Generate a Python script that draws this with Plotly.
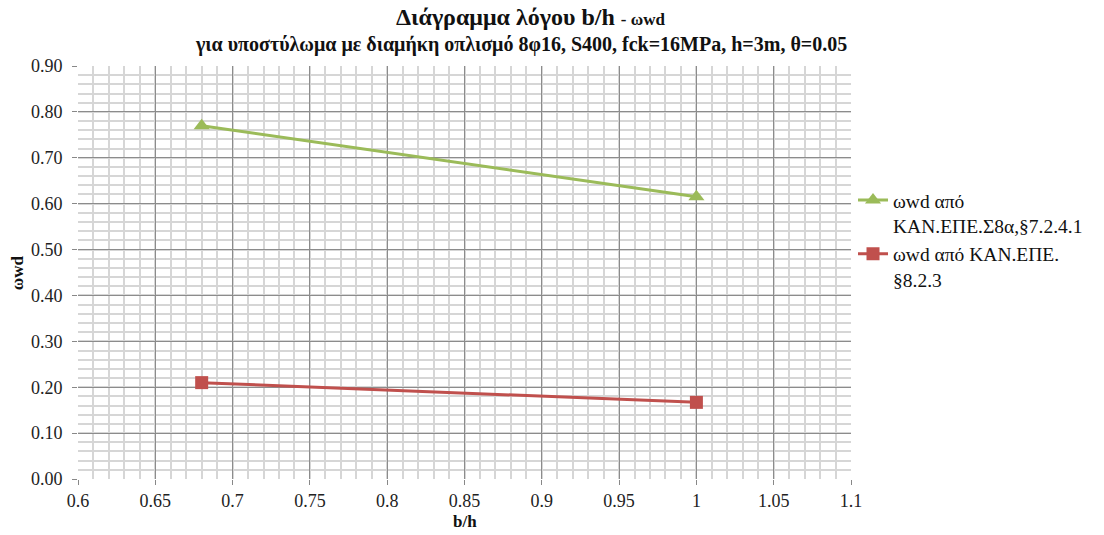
import plotly.graph_objects as go

# Data
bh = [0.68, 1.0]
wwd_s8a = [0.77, 0.615]
wwd_823 = [0.21, 0.167]
series_names = ["ωwd από<br>ΚΑΝ.ΕΠΕ.Σ8α,§7.2.4.1", "ωwd από ΚΑΝ.ΕΠΕ.<br>§8.2.3"]
x_ticks = [0.6, 0.65, 0.7, 0.75, 0.8, 0.85, 0.9, 0.95, 1.0, 1.05, 1.1]
x_ticklabels = ["0.6", "0.65", "0.7", "0.75", "0.8", "0.85", "0.9", "0.95", "1", "1.05", "1.1"]
y_ticks = [0.0, 0.1, 0.2, 0.3, 0.4, 0.5, 0.6, 0.7, 0.8, 0.9]
y_ticklabels = ["0.00", "0.10", "0.20", "0.30", "0.40", "0.50", "0.60", "0.70", "0.80", "0.90"]
title_main = "Διάγραμμα λόγου b/h"
title_sym = "- ωwd"
subtitle = "για υποστύλωμα με διαμήκη οπλισμό 8φ16, S400, fck=16MPa, h=3m, θ=0.05"
x_title = "b/h"
y_title = "ωwd"

FONT = "'Liberation Serif', 'Times New Roman', 'DejaVu Serif', serif"
TXT = "#111111"

fig = go.Figure()
fig.add_trace(go.Scatter(
    x=bh, y=wwd_s8a, mode="lines+markers", name=series_names[0],
    line=dict(color="#9BBB59", width=3),
    marker=dict(symbol="triangle-up", size=14, color="#9BBB59"),
))
fig.add_trace(go.Scatter(
    x=bh, y=wwd_823, mode="lines+markers", name=series_names[1],
    line=dict(color="#C0504D", width=3),
    marker=dict(symbol="square", size=13, color="#C0504D"),
))

axis_common = dict(
    showline=False, zeroline=False,
    ticks="outside", ticklen=5, tickcolor="#888888",
    tickfont=dict(family=FONT, size=18, color="#222222"),
    gridcolor="#8c8c8c", gridwidth=1,
)

fig.update_xaxes(
    range=[0.6, 1.1], tickmode="array", tickvals=x_ticks, ticktext=x_ticklabels,
    minor=dict(dtick=0.01, showgrid=True, gridcolor="#d6d6d6", gridwidth=2),
    ticklabelstandoff=0,
    **axis_common,
)
fig.update_yaxes(
    range=[0, 0.9], tickmode="array", tickvals=y_ticks, ticktext=y_ticklabels,
    minor=dict(dtick=0.02, showgrid=True, gridcolor="#d6d6d6", gridwidth=2),
    ticklabelstandoff=6,
    **axis_common,
)

annotations = [
    dict(text=f"<b>{title_main} <span style='font-size:17px'>{title_sym}</span></b>",
         x=0.585, y=1.118, xref="paper", yref="paper", xanchor="center", yanchor="middle",
         showarrow=False, font=dict(family=FONT, size=24, color=TXT)),
    dict(text=f"<b>{subtitle}</b>",
         x=0.573, y=1.053, xref="paper", yref="paper", xanchor="center", yanchor="middle",
         showarrow=False, font=dict(family=FONT, size=20, color=TXT)),
    dict(text=f"<b>{x_title}</b>",
         x=0.5, y=-0.104, xref="paper", yref="paper", xanchor="center", yanchor="middle",
         showarrow=False, font=dict(family=FONT, size=17, color=TXT)),
    dict(text=f"<b>{y_title}</b>", textangle=-90,
         x=-0.078, y=0.5, xref="paper", yref="paper", xanchor="center", yanchor="middle",
         showarrow=False, font=dict(family=FONT, size=17, color=TXT)),
]

fig.update_layout(
    width=1104, height=535,
    margin=dict(l=78, r=253, t=66, b=56),
    paper_bgcolor="white", plot_bgcolor="white",
    font=dict(family=FONT, color=TXT),
    showlegend=True,
    legend=dict(
        x=1.0026, y=0.722, xanchor="left", yanchor="top", valign="top",
        font=dict(family=FONT, size=19.5, color=TXT),
        itemwidth=30, tracegroupgap=9,
    ),
    annotations=annotations,
)

fig.write_html("out.html")
